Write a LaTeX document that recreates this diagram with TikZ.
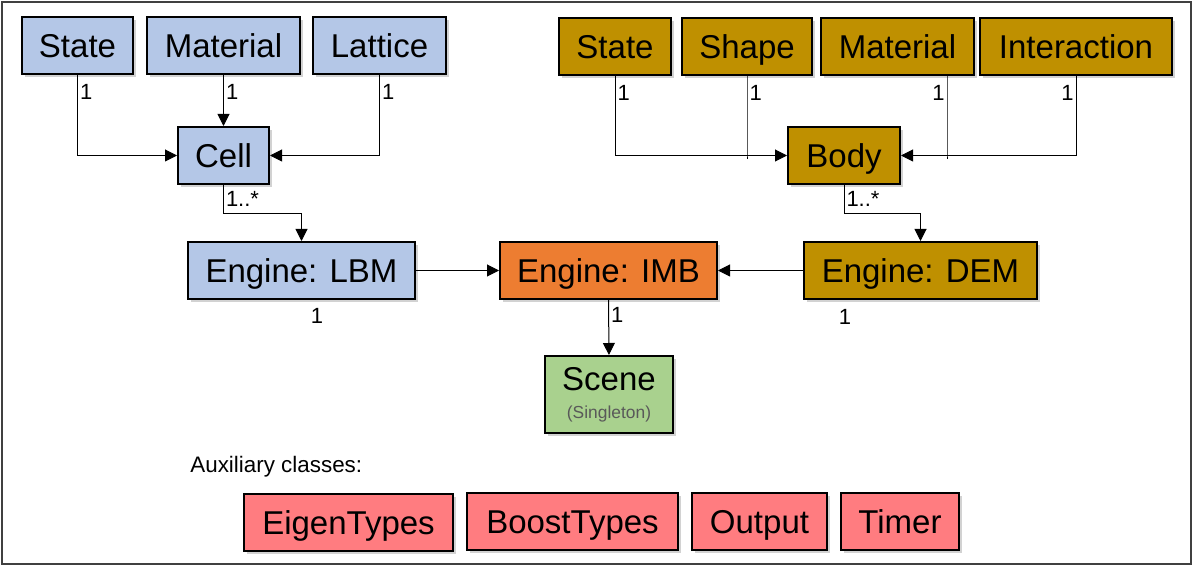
\documentclass[tikz,border=0pt]{standalone}
\usepackage{fontspec}
\setmainfont{Liberation Sans}
\usetikzlibrary{positioning,arrows.meta,shadows}

\definecolor{lbmblue}{RGB}{180,199,231}
\definecolor{demgold}{RGB}{191,144,0}
\definecolor{imborange}{RGB}{237,125,49}
\definecolor{scenegreen}{RGB}{169,209,142}
\definecolor{auxred}{RGB}{255,124,128}
\definecolor{noteg}{RGB}{89,89,89}

\begin{document}
\begin{tikzpicture}[
  x=0.5pt, y=-0.5pt,
  cls/.style={
    draw, line width=1pt, minimum height=28.5pt, inner sep=0pt,
    text height=11.8pt, text depth=0pt,
    font=\fontsize{16.5}{19}\selectfont,
    drop shadow={shadow xshift=1.5pt, shadow yshift=-1.5pt, opacity=0.35}
  },
  conn/.style={line width=0.5pt, -{Triangle[length=6pt,width=6pt]}},
  joinline/.style={line width=0.5pt},
  mult/.style={font=\fontsize{11}{12}\selectfont, inner sep=1pt},
  startlbl/.style={mult, at start, anchor=north west, yshift=-3.5pt},
  startlblL/.style={mult, at start, anchor=north east, yshift=-3.5pt}
]
\useasboundingbox (0,0) rectangle (1195,566);
\fill[white] (0,0) rectangle (1195,566);
\draw[line width=1pt, black!75] (2,2) rectangle (1191,564);

% LBM side
\node[cls, fill=lbmblue, minimum width=55.5pt] (lstate)    at (77.5,45.5)  {State};
\node[cls, fill=lbmblue, minimum width=76.5pt] (lmaterial) at (223.5,45.5) {Material};
\node[cls, fill=lbmblue, minimum width=66.5pt] (llattice)  at (379.5,45.5) {Lattice};
\node[cls, fill=lbmblue, minimum width=45.5pt] (cell)      at (223.5,155.5) {Cell};
\node[cls, fill=lbmblue, minimum width=113.5pt] (lbm)      at (301.5,270.5) {Engine: LBM};

% DEM side
\node[cls, fill=demgold, minimum width=56pt] (rstate)      at (615,46.5)   {State};
\node[cls, fill=demgold, minimum width=65pt] (shape)       at (747,46.5)   {Shape};
\node[cls, fill=demgold, minimum width=76.5pt] (rmaterial) at (897.5,46.5) {Material};
\node[cls, fill=demgold, minimum width=96pt] (interaction) at (1076,46.5)  {Interaction};
\node[cls, fill=demgold, minimum width=56pt] (body)        at (844,155.5)  {Body};
\node[cls, fill=demgold, minimum width=116.5pt] (dem)      at (920.5,270.5) {Engine: DEM};

% coupling
\node[cls, fill=imborange, minimum width=108.5pt] (imb) at (608.5,270.5) {Engine: IMB};
\node[cls, fill=scenegreen, minimum width=64pt, minimum height=38.5pt, align=center,
  text height=, text depth=] (scene) at (609,394.5)
  {Scene\\[-5pt]{\fontsize{8.7}{10}\selectfont\color{noteg}(Singleton)}};

% auxiliary
\node[anchor=west, inner sep=0pt, font=\fontsize{11.2}{13}\selectfont] (auxlbl) at (190,467) {Auxiliary classes:};
\node[cls, fill=auxred, minimum width=104.5pt] (eigen)  at (348.5,522.5) {EigenTypes};
\node[cls, fill=auxred, minimum width=105.5pt] (boost)  at (572.5,522)   {BoostTypes};
\node[cls, fill=auxred, minimum width=67.5pt]  (output) at (759.5,522)   {Output};
\node[cls, fill=auxred, minimum width=59pt]    (timer)  at (900,521.5)   {Timer};

% connectors, LBM side
\draw[conn] (lstate.south) |- node[startlbl] {1} (cell.west);
\draw[conn] (lmaterial.south) -- node[startlbl] {1} (cell.north);
\draw[conn] (llattice.south) |- node[startlbl] {1} (cell.east);
\draw[conn] (cell.south) -- node[startlbl, yshift=1.5pt] {1..*} ++(0,29) -| (lbm.north);

% connectors, DEM side
\coordinate (matfoot) at ([xshift=-14pt]rmaterial.south east);
\draw[conn] (rstate.south) |- node[startlbl] {1} (body.west);
\draw[joinline] (shape.south) -- node[startlbl] {1} (shape.south |- body.west) -- ++(0,4);
\draw[joinline] (matfoot) -- node[startlblL] {1} (matfoot |- body.east) -- ++(0,4);
\draw[conn] (interaction.south) |- node[startlblL] {1} (body.east);
\draw[conn] (body.south) -- node[startlbl, yshift=1.5pt] {1..*} ++(0,29) -| (dem.north);

% engines
\draw[conn] (lbm.east) -- (imb.west);
\draw[conn] (dem.west) -- (imb.east);
\draw[conn] (imb.south) -- node[startlbl, yshift=1pt] {1} (scene.north);
\node[mult] (lbmone) at ([xshift=7.75pt, yshift=-8pt]lbm.south) {1};
\node[mult] (demone) at ([xshift=-37.75pt, yshift=-8.25pt]dem.south) {1};
\end{tikzpicture}
\end{document}
